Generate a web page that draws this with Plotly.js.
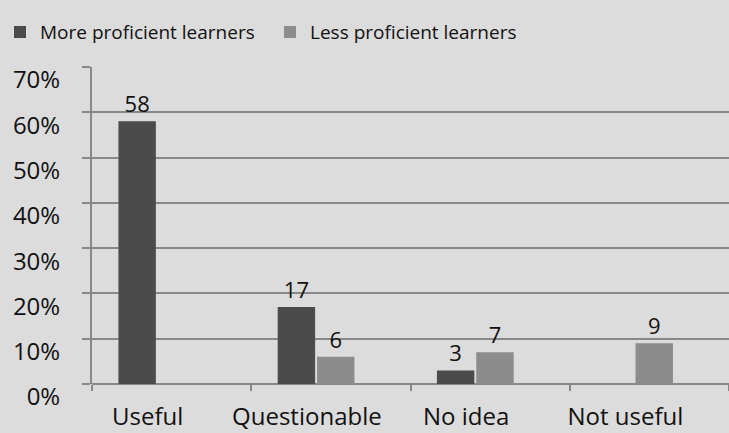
<!DOCTYPE html>
<html>
<head>
<meta charset="utf-8">
<script src="https://cdn.plot.ly/plotly-3.0.1.min.js"></script>
<style>html,body{margin:0;padding:0;background:#dcdcdc;}#chart{width:729px;height:433px;}</style>
</head>
<body>
<div id="chart"></div>
<script>
const categories = ["Useful", "Questionable", "No idea", "Not useful"];
const moreProficient = [58, 17, 3, 0];
const lessProficient = [0, 6, 7, 9];
const seriesNames = ["More proficient learners", "Less proficient learners"];
const yTicks = [0, 10, 20, 30, 40, 50, 60, 70];

const FONT = "Open Sans, Noto Sans, sans-serif";
const labelOf = v => v > 0 ? String(v) : "";

const traces = [
  {
    type: "bar", name: seriesNames[0], x: categories, y: moreProficient,
    offset: -0.334, width: 0.235,
    text: moreProficient.map(labelOf), textposition: "outside", cliponaxis: false,
    textfont: {family: FONT, size: 22, color: "#111"},
    marker: {color: "#4b4b4b", line: {width: 0}}
  },
  {
    type: "bar", name: seriesNames[1], x: categories, y: lessProficient,
    offset: -0.087, width: 0.235,
    text: lessProficient.map(labelOf), textposition: "outside", cliponaxis: false,
    textfont: {family: FONT, size: 22, color: "#111"},
    marker: {color: "#8c8c8c", line: {width: 0}}
  }
];

const layout = {
  width: 729, height: 433,
  paper_bgcolor: "#dcdcdc", plot_bgcolor: "#dcdcdc",
  margin: {l: 82, r: 0, t: 67, b: 49},
  barmode: "group",
  font: {family: FONT, size: 20, color: "#111"},
  showlegend: true,
  legend: {
    orientation: "h", x: -0.145, xanchor: "left", y: 1.11, yanchor: "middle",
    bgcolor: "rgba(0,0,0,0)", font: {family: FONT, size: 19, color: "#111"},
    entrywidth: 225, entrywidthmode: "pixels", traceorder: "normal"
  },
  xaxis: {
    type: "category", showgrid: false, zeroline: false,
    showline: false, ticks: "outside", tickson: "boundaries",
    ticklen: 6, tickwidth: 2, tickcolor: "#888", tickangle: 0,
    ticklabelstandoff: 16, ticklabelshift: -24,
    tickfont: {family: FONT, size: 24, color: "#111"}
  },
  yaxis: {
    range: [0, 70], tickvals: yTicks, ticktext: yTicks.map(v => v + "%"),
    showgrid: true, gridcolor: "#888", gridwidth: 2,
    zeroline: true, zerolinecolor: "#888", zerolinewidth: 2,
    showline: true, linecolor: "#888", linewidth: 2,
    ticks: "outside", ticklen: 8, tickwidth: 2, tickcolor: "#888",
    ticklabelshift: 13, ticklabelstandoff: 17,
    tickfont: {family: FONT, size: 24, color: "#111"}
  }
};

Plotly.newPlot("chart", traces, layout, {displayModeBar: false, staticPlot: true});
</script>
</body>
</html>
